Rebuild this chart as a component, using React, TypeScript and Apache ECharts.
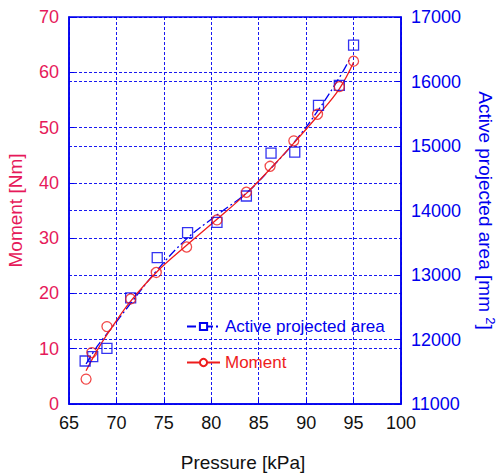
import React, { useEffect, useRef } from "react";
import * as echarts from "echarts";

const xTicks = [65, 70, 75, 80, 85, 90, 95, 100];

// Measured points
const momentX = [66.8, 67.4, 69.0, 71.5, 74.2, 77.4, 80.6, 83.7, 86.2, 88.7, 91.2, 93.5, 95.0];
const momentY = [4.5, 9.3, 14.0, 19.0, 23.8, 28.4, 33.3, 38.3, 43.0, 47.6, 52.4, 57.4, 62.0];
const areaX = [66.7, 67.5, 69.0, 71.5, 74.3, 77.5, 80.6, 83.7, 86.3, 88.8, 91.3, 93.5, 95.0];
const areaY = [11667, 11733, 11863, 12645, 13268, 13656, 13815, 14225, 14890, 14905, 15630, 15940, 16565];

// Fitted curves
const momentFitX = [66.8, 68.0, 69.5, 71.5, 74.2, 77.4, 80.6, 83.7, 86.2, 88.7, 91.2, 93.5, 95.0];
const momentFitY = [6.0, 9.8, 13.8, 18.6, 23.8, 28.7, 33.4, 38.1, 42.5, 47.2, 52.1, 57.0, 61.8];
const areaFitX = [66.8, 68.0, 69.5, 71.5, 74.2, 77.4, 80.6, 83.7, 86.2, 88.7, 91.2, 93.5, 94.6];
const areaFitY = [11620, 11900, 12180, 12560, 13060, 13560, 13930, 14270, 14640, 15050, 15540, 16060, 16350];

const RED = "#ee1c1c";
const BLUE = "#0000ee";
const LEFT_LABEL = "#e6195a";
const FONT = "Liberation Sans, Arial, sans-serif";

const zip = (xs: number[], ys: number[]) => xs.map((x, i) => [x, ys[i]]);
const mkGrid = () => ({ show: true, lineStyle: { color: [BLUE], type: [3, 2] as any, width: 1, opacity: 0.9 } });

export default function App() {
  const ref = useRef<HTMLDivElement>(null);
  useEffect(() => {
    if (!ref.current) return;
    const chart = echarts.init(ref.current, undefined, { renderer: "svg" });
    chart.setOption({
      animation: false,
      textStyle: { fontFamily: FONT },
      grid: {
        left: 69,
        right: 99,
        top: 17,
        bottom: 71,
        show: true,
        borderColor: BLUE,
        borderWidth: 1.5,
        backgroundColor: "transparent",
        outerBoundsMode: "none",
        containLabel: false,
      },
      legend: {
        orient: "vertical",
        left: 181,
        top: 313,
        itemWidth: 33,
        itemHeight: 9,
        itemGap: 19,
        data: [
          { name: "Active projected area", textStyle: { color: BLUE } },
          { name: "Moment", textStyle: { color: RED } },
        ],
        textStyle: { fontSize: 17, fontFamily: FONT },
      },
      xAxis: {
        type: "value",
        min: 65,
        max: 100,
        interval: 5,
        name: "Pressure [kPa]",
        nameLocation: "middle",
        nameGap: 49,
        nameTextStyle: { color: "#111", fontSize: 19, padding: [0, 0, 0, 16] },
        axisLine: { lineStyle: { color: BLUE, width: 1.5 } },
        axisTick: { inside: true, length: 5, lineStyle: { color: BLUE } },
        axisLabel: {
          color: "#111",
          fontSize: 18,
          margin: 10,
          formatter: (v: number) => (xTicks.includes(v) ? String(v) : ""),
        },
        splitLine: mkGrid(),
      },
      yAxis: [
        {
          type: "value",
          min: 0,
          max: 70,
          interval: 10,
          position: "left",
          name: "Moment [Nm]",
          nameLocation: "middle",
          nameGap: 44,
          nameRotate: 90,
          nameTextStyle: { color: LEFT_LABEL, fontSize: 19 },
          axisLine: { show: true, lineStyle: { color: BLUE, width: 1.5 } },
          axisTick: { show: true, inside: true, length: 5, lineStyle: { color: BLUE } },
          axisLabel: { color: LEFT_LABEL, fontSize: 18, margin: 10 },
          splitLine: mkGrid(),
        },
        {
          type: "value",
          min: 11000,
          max: 17000,
          interval: 1000,
          position: "right",
          name: "Active projected area [mm {s|2}]",
          nameLocation: "middle",
          nameGap: 73,
          nameRotate: -90,
          nameTextStyle: {
            color: BLUE,
            fontSize: 19,
            rich: { s: { fontSize: 13, color: BLUE, padding: [0, 0, 10, 0] } },
          },
          axisLine: { show: true, lineStyle: { color: BLUE, width: 1.5 } },
          axisTick: { show: true, inside: true, length: 5, lineStyle: { color: BLUE } },
          axisLabel: { color: BLUE, fontSize: 18, margin: 10, formatter: (v: number) => String(v) },
          splitLine: mkGrid(),
        },
      ],
      series: [
        {
          name: "Active projected area",
          type: "line",
          yAxisIndex: 1,
          data: zip(areaFitX, areaFitY),
          smooth: 0.4,
          showSymbol: false,
          symbol: "emptyRect",
          symbolSize: 9,
          itemStyle: { color: BLUE, borderColor: BLUE },
          lineStyle: { color: BLUE, width: 1.3, type: [9, 3, 2, 3] as any },
          z: 3,
        },
        {
          name: "Moment",
          type: "line",
          yAxisIndex: 0,
          data: zip(momentFitX, momentFitY),
          smooth: 0.4,
          showSymbol: false,
          symbol: "emptyCircle",
          symbolSize: 9,
          itemStyle: { color: RED, borderColor: RED },
          lineStyle: { color: RED, width: 1.3 },
          z: 3,
        },
        {
          name: "area points",
          type: "scatter",
          yAxisIndex: 1,
          data: zip(areaX, areaY),
          symbol: "rect",
          symbolSize: 10,
          itemStyle: { color: "transparent", borderColor: BLUE, borderWidth: 1.3 },
          z: 4,
        },
        {
          name: "moment points",
          type: "scatter",
          yAxisIndex: 0,
          data: zip(momentX, momentY),
          symbol: "circle",
          symbolSize: 10,
          itemStyle: { color: "transparent", borderColor: RED, borderWidth: 1.3 },
          z: 4,
        },
      ],
    });
    return () => chart.dispose();
  }, []);
  return <div ref={ref} style={{ width: 500, height: 475, position: "absolute", left: 0, top: 0 }} />;
}
